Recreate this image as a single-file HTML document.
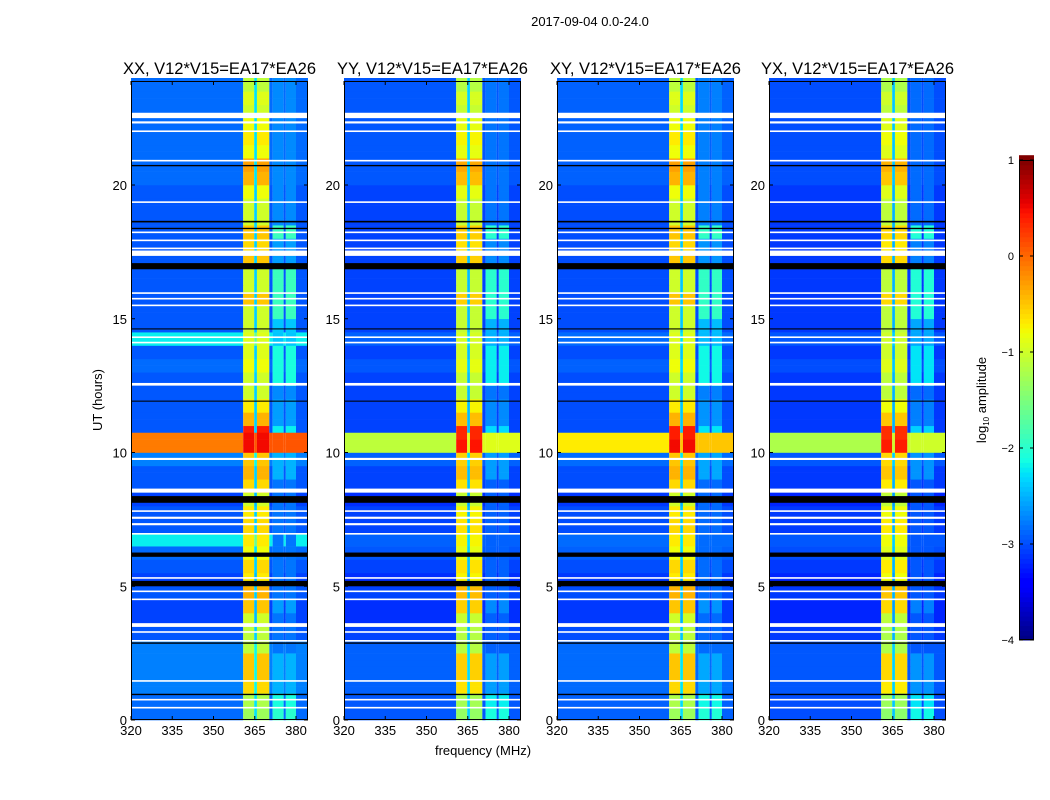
<!DOCTYPE html>
<html><head><meta charset="utf-8">
<style>
html,body{margin:0;padding:0;background:#fff;}
svg{display:block;font-family:"Liberation Sans",sans-serif;}
</style></head>
<body>
<svg id="fig" width="1050" height="800" viewBox="0 0 1050 800" xmlns="http://www.w3.org/2000/svg">
<rect width="1050" height="800" fill="#fff"/>
<text x="590" y="26" font-size="13" text-anchor="middle">2017-09-04 0.0-24.0</text>
<text x="483" y="755" font-size="13" text-anchor="middle">frequency (MHz)</text>
<text x="102" y="400" font-size="13" text-anchor="middle" transform="rotate(-90 102 400)">UT (hours)</text>
<g id="panels"></g>
<g id="cbar"></g>
</svg>
<script>
// ---- data ----
const panelTitles = ["XX, V12*V15=EA17*EA26","YY, V12*V15=EA17*EA26","XY, V12*V15=EA17*EA26","YX, V12*V15=EA17*EA26"];
const freqEdges = [320,360.8,364.8,365.8,370.3,371.5,375.5,376.3,380,384.4];
const colTypes = ["bg","main","gap","main","bg","side","bg","side","bg"];
const xTicks = [320,335,350,365,380];
const yTicks = [0,5,10,15,20];
const cbTicks = [1,0,-1,-2,-3,-4];
// levels per 0.5 hour (log10 amplitude), hours 0..24
const bgLevel = [-2.85,-2.85,-2.75,-2.75,-2.75,-2.75,-2.95,-3.05,-3.05,-2.95,-3.05,-2.95,-2.85,-2.2,-2.95,-2.95,-3.05,-2.95,-2.95,-2.75,-2.95,-2.95,-2.95,-2.95,-2.95,-2.95,-2.85,-2.95,-2.2,-2.95,-2.95,-2.95,-2.95,-2.95,-2.95,-2.95,-2.95,-2.95,-2.95,-2.95,-2.85,-2.85,-2.85,-2.85,-2.85,-2.85,-2.85,-2.85];
const mainLevel = [-1.3,-1.2,-0.6,-0.5,-0.5,-1.1,-1.1,-1.0,-0.5,-0.4,-0.7,-0.6,-0.8,-0.7,-0.6,-0.7,-1.0,-0.6,-0.4,-0.5,0.5,0.4,-0.4,-0.7,-1.0,-1.0,-0.8,-0.9,-0.9,-1.0,-1.0,-0.5,-1.0,-1.0,-0.5,-0.6,-0.5,-1.0,-1.0,-0.8,-0.4,-0.3,-0.8,-0.7,-0.8,-1.0,-0.9,-1.1];
const sideLevel = [-2.0,-2.1,-2.5,-2.5,-2.5,-2.8,-2.8,-2.8,-2.6,-2.8,-2.8,-2.8,-2.8,-2.8,-2.8,-2.8,-2.8,-2.8,-2.5,-2.5,-2.2,-2.2,-2.6,-2.6,-2.7,-2.1,-2.1,-2.1,-2.4,-2.4,-1.9,-1.9,-1.9,-1.9,-2.6,-2.6,-1.9,-2.7,-2.7,-2.7,-2.7,-2.7,-2.7,-2.7,-2.7,-2.7,-2.7,-2.7];
const bandStart = 10.0, bandEnd = 10.75;
const bandLevel = [0.1,-0.9,-0.5,-1.0];
const panelOffset = [0,-0.1,-0.05,-0.15];
const mainOffset = [0,-0.05,0,-0.1];
const bgCap = [0,-2.8,-2.8,-2.8];
const whiteFlags = [[22.5,22.7],[22.3,22.38],[21.98,22.04],[20.88,20.94],[19.33,19.39],[18.2,18.26],[17.9,17.96],[17.6,17.66],[17.35,17.55],[15.93,15.99],[15.72,15.78],[15.47,15.53],[14.28,14.34],[14.08,14.14],[12.5,12.6],[9.72,9.8],[8.5,8.65],[7.78,7.84],[7.52,7.6],[7.28,7.36],[6.93,6.99],[5.28,5.34],[4.78,4.84],[4.48,4.54],[3.48,3.62],[3.26,3.32],[2.93,2.99],[1.43,1.49],[0.73,0.79],[0.43,0.49]];
const blackFlags = [[16.85,17.08],[8.12,8.37],[6.1,6.26],[5.0,5.2],[18.6,18.66],[18.35,18.4],[20.7,20.75],[14.6,14.64],[0.93,0.98],[11.9,11.94],[2.85,2.9]];

// ---- layout ----
const panelX = [131,344,557,769], panelW = 177;
const plotTop = 81, plotBottom = 720;
const pxPerMHz = 2.75, pxPerHour = 26.75;
const xScale = (p,f) => panelX[p] + (f-320)*pxPerMHz;
const yScale = h => plotBottom - h*pxPerHour;
const NS = "http://www.w3.org/2000/svg";
function jet(v){
  let t = Math.max(0,Math.min(1,(v+4)/5));
  const seg=(pts)=>{for(let i=1;i<pts.length;i++){if(t<=pts[i][0]){const a=pts[i-1],b=pts[i];return a[1]+(b[1]-a[1])*(t-a[0])/(b[0]-a[0]);}}return pts[pts.length-1][1];};
  const r=seg([[0,0],[0.35,0],[0.66,1],[0.89,1],[1,0.5]]);
  const g=seg([[0,0],[0.125,0],[0.375,1],[0.64,1],[0.91,0],[1,0]]);
  const b=seg([[0,0.5],[0.11,1],[0.34,1],[0.65,0],[1,0]]);
  return `rgb(${Math.round(r*255)},${Math.round(g*255)},${Math.round(b*255)})`;
}
function mk(tag, attrs, parent){const e=document.createElementNS(NS,tag);for(const k in attrs)e.setAttribute(k,attrs[k]);parent.appendChild(e);return e;}
const panels = document.getElementById("panels");
const step = 0.25;
for(let p=0;p<4;p++){
  const g = mk("g",{},panels);
  
  
  for(let t=0;t<24;t+=step){
    const idx = Math.floor(t/0.5);
    const inBand = t>=bandStart && t<bandEnd;
    for(let c=0;c<colTypes.length;c++){
      const type = colTypes[c];
      let bg = bgLevel[idx];
      if(bgCap[p]<0) bg = Math.min(bg,bgCap[p]);
      let v;
      if(type==="main") v = mainLevel[idx] + mainOffset[p];
      else if(type==="side") v = sideLevel[idx];
      else if(type==="gap") v = bg+0.6;
      else v = bg;
      if(type!=="main") v += panelOffset[p];
      if(inBand){ v = type==="main" ? Math.max(v, bandLevel[p]+0.4) : Math.max(v, bandLevel[p] - (type==="bg"&&c===0?0.2:0)); }
      const x0 = xScale(p,freqEdges[c]), x1 = Math.min(xScale(p,freqEdges[c+1]), panelX[p]+panelW);
      const r = mk("rect",{x:x0.toFixed(2),y:yScale(t+step).toFixed(2),width:(x1-x0).toFixed(2),height:(step*pxPerHour+0.3).toFixed(2),fill:jet(v)},g);
      
      
    }
  }
  for(const f of whiteFlags){
    const r = mk("rect",{x:panelX[p],y:yScale(f[1]).toFixed(2),width:panelW,height:Math.max(1,(f[1]-f[0])*pxPerHour).toFixed(2),fill:"#fff"},g);
    
    
  }
  for(const f of blackFlags){
    const r = mk("rect",{x:panelX[p],y:yScale(f[1]).toFixed(2),width:panelW,height:Math.max(1,(f[1]-f[0])*pxPerHour).toFixed(2),fill:"#000"},g);
    
    
  }
  const fr = mk("rect",{x:panelX[p]+0.5,y:plotTop+0.5,width:panelW-1,height:plotBottom-plotTop-1,fill:"none",stroke:"#000","stroke-width":1},g);
  
  
  const tt = mk("text",{x:panelX[p]+panelW/2,y:74,"font-size":16.5,"text-anchor":"middle"},g);
  tt.textContent = panelTitles[p];
  
  
  for(const f of xTicks){
    const x = xScale(p,f);
    mk("line",{x1:x,x2:x,y1:plotBottom,y2:plotBottom-4,stroke:"#000"},g);
    mk("line",{x1:x,x2:x,y1:plotTop,y2:plotTop+4,stroke:"#000"},g);
    const tl = mk("text",{x:x,y:plotBottom+15,"font-size":13,"text-anchor":"middle"},g);
    tl.textContent = f;
    
    
  }
  for(const h of yTicks){
    const y = yScale(h);
    mk("line",{x1:panelX[p],x2:panelX[p]+4,y1:y,y2:y,stroke:"#000"},g);
    mk("line",{x1:panelX[p]+panelW,x2:panelX[p]+panelW-4,y1:y,y2:y,stroke:"#000"},g);
    const tl = mk("text",{x:panelX[p]-4,y:y+5,"font-size":13,"text-anchor":"end"},g);
    tl.textContent = h;
    
    
  }
}
// colorbar
const cb = document.getElementById("cbar");
const cbX=1019, cbW=15, cbTop=160, cbBot=640;
const cbY = v => cbBot - (v+4)/5*(cbBot-cbTop);
for(let v=-4; v<1; v+=0.05){
  const r = mk("rect",{x:cbX,y:cbY(v+0.05).toFixed(2),width:cbW,height:(0.05/5*(cbBot-cbTop)+0.5).toFixed(2),fill:jet(v+0.025)},cb);
  
  
}
mk("rect",{x:cbX+0.5,y:cbTop+0.5,width:cbW-1,height:cbBot-cbTop-1,fill:"none",stroke:"#000"},cb);
for(const v of cbTicks){
  const y=cbY(v);
  mk("line",{x1:cbX,x2:cbX+4,y1:y,y2:y,stroke:"#000"},cb);
  mk("line",{x1:cbX+cbW,x2:cbX+cbW-4,y1:y,y2:y,stroke:"#000"},cb);
  const tl = mk("text",{x:cbX-5,y:y+4,"font-size":11,"text-anchor":"end"},cb);
  tl.textContent = v<0 ? "\u2212"+(-v) : v;
  
  
}
const cl = mk("text",{x:986,y:400,"font-size":13,"text-anchor":"middle",transform:"rotate(-90 986 400)"},cb);
cl.innerHTML = 'log<tspan font-size="8" dy="3">10</tspan><tspan dy="-3"> amplitude</tspan>';


</script>
</body></html>
